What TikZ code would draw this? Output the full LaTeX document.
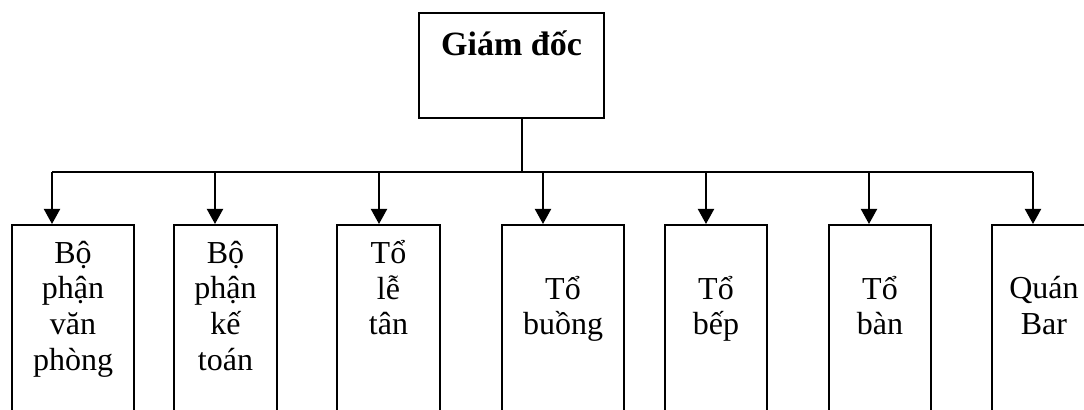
\documentclass[tikz,border=0pt]{standalone}
\usepackage{fontspec}
\setmainfont{Liberation Serif}
\usetikzlibrary{arrows.meta}
\tikzset{
    unit/.style={draw, line width=1pt, minimum height=93.5pt, inner sep=0pt, align=center, font=\fontsize{16}{17.8}\selectfont,
        execute at begin node=\rule{0pt}{18pt}, execute at end node=\rule[-13pt]{0pt}{13pt}},
    boss/.style={draw, line width=1pt, minimum width=92.5pt, minimum height=52.5pt, inner sep=0pt, align=center, font=\fontsize{17}{18}\selectfont\bfseries,
        execute at begin node=\rule{0pt}{17pt}, execute at end node=\rule[-27pt]{0pt}{27pt}},
    link/.style={line width=1pt},
    down/.style={line width=1pt, -{Triangle[width=8pt,length=7.5pt]}}
}
\begin{document}
\begin{tikzpicture}[x=0.5pt,y=-0.5pt]
            \useasboundingbox (0,0) rectangle (1084,410);
            \clip (0,0) rectangle (1084,410);
            \node [boss] (gd) at (511.5,65.5) {Giám đốc};
            \node [unit, minimum width=61pt] (b1) at (73,318.5) {Bộ\\phận\\văn\\phòng};
            \node [unit, minimum width=51.5pt] (b2) at (225.5,318.5) {Bộ\\phận\\kế\\toán};
            \node [unit, minimum width=51.5pt] (b3) at (388.5,318.5) {Tổ\\lễ\\tân\\~};
            \node [unit, minimum width=61pt] (b4) at (563,318.5) {Tổ\\buồng};
            \node [unit, minimum width=51pt] (b5) at (716,318.5) {Tổ\\bếp};
            \node [unit, minimum width=51pt] (b6) at (880,318.5) {Tổ\\bàn};
            \node [unit, minimum width=52pt] (b7) at (1044,318.5) {Quán\\Bar};
            \coordinate (top) at (522,172);
            \draw [link] (gd.south -| top) -- (top);
            \foreach \n/\x in {b1/52,b2/215,b3/379,b4/543,b5/706,b6/869,b7/1033} {
                \coordinate (t\n) at (\x,172);
                \draw [down] (t\n) -- (t\n |- \n.north);
            }
            \draw [link] (tb1) -- (tb7);
        \end{tikzpicture}
\end{document}
